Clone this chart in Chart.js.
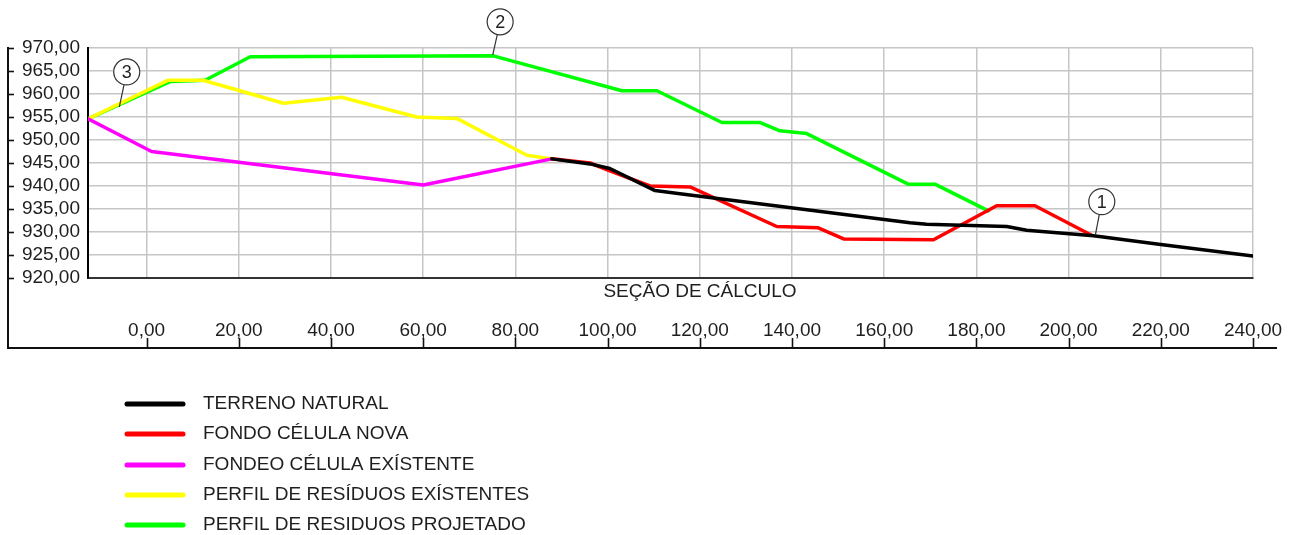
<!DOCTYPE html>
<html>
<head>
<meta charset="utf-8">
<script src="https://cdn.jsdelivr.net/npm/chart.js@4.4.1/dist/chart.umd.min.js"></script>
<style>
  html, body { margin: 0; padding: 0; background: #ffffff; }
  #wrap { width: 1301px; height: 535px; }
</style>
</head>
<body>
<div id="wrap"><canvas id="c" width="1301" height="535"></canvas></div>
<script>
// ---- data ----
const seriesNames = [
  'TERRENO NATURAL',
  'FONDO CÉLULA NOVA',
  'FONDEO CÉLULA EXÍSTENTE',
  'PERFIL DE RESÍDUOS EXÍSTENTES',
  'PERFIL DE RESIDUOS PROJETADO'
];
const seriesColors = ['#000000', '#ff0000', '#ff00ff', '#ffff00', '#00ff00'];

const terrenoX = [87.9, 96.2, 100.5, 110.3, 115.7, 165.6, 169.2, 186.6, 190.9, 205.4, 220.0, 240.0];
const terrenoY = [945.9, 944.8, 943.8, 939.0, 938.3, 932.0, 931.7, 931.2, 930.4, 929.2, 927.3, 924.8];

const fondoNovaX = [87.9, 96.2, 100.5, 109.2, 117.9, 136.7, 145.7, 151.2, 170.7, 184.4, 192.7, 205.0];
const fondoNovaY = [945.9, 945.0, 943.3, 940.0, 939.8, 931.2, 930.9, 928.5, 928.3, 935.7, 935.7, 929.3];

const fondeoExistX = [-12.7, 1.1, 60.0, 87.9];
const fondeoExistY = [954.6, 947.5, 940.2, 945.9];

const residExistX = [-12.7, 4.7, 12.3, 29.7, 42.3, 58.6, 67.3, 82.5, 87.9];
const residExistY = [954.6, 963.0, 963.0, 958.0, 959.3, 955.0, 954.7, 946.7, 945.9];

const residProjX = [-12.7, 5.1, 12.7, 22.5, 75.2, 103.1, 110.7, 124.8, 133.1, 137.4, 143.2, 165.2, 171.0, 182.6];
const residProjY = [954.6, 962.7, 963.0, 968.1, 968.3, 960.7, 960.7, 953.8, 953.8, 952.0, 951.4, 940.4, 940.4, 934.6];

const xMin = -12.7, xMax = 240, xStep = 20;
const yMin = 920, yMax = 970, yStep = 5;
const xTitle = 'SEÇÃO DE CÁLCULO';

// callouts: label, circle centre (data units), leader end (data units)
const calloutLabels = ['1', '2', '3'];
const calloutCX = [207.2, 76.7, -4.3];
const calloutCY = [936.6, 975.7, 964.8];
const calloutEX = [205.8, 75.1, -5.9];
const calloutEY = [929.3, 968.5, 957.2];

// ---- build ----
const xs = [terrenoX, fondoNovaX, fondeoExistX, residExistX, residProjX];
const ys = [terrenoY, fondoNovaY, fondeoExistY, residExistY, residProjY];
const FONT = '"Liberation Sans", Arial, Helvetica, sans-serif';
const FS = 19;
const fmt = v => Number(v).toFixed(2).replace('.', ',');

const datasets = seriesNames.map((name, i) => ({
  label: name,
  data: xs[i].map((x, k) => ({ x: x, y: ys[i][k] })),
  borderColor: seriesColors[i],
  backgroundColor: seriesColors[i],
  borderWidth: 3.5,
  pointRadius: 0,
  tension: 0,
  fill: false,
  borderJoinStyle: 'round',
  borderCapStyle: 'round'
}));

const framePlugin = {
  id: 'frame',
  afterDraw(chart) {
    const ctx = chart.ctx;
    const sx = chart.scales.x, sy = chart.scales.y;
    const top = sy.getPixelForValue(yMax);
    const frameLeft = 8, frameBottom = 348, frameRight = 1277;
    ctx.save();
    ctx.strokeStyle = '#111';
    ctx.lineWidth = 2;
    ctx.beginPath();
    ctx.moveTo(frameLeft, top - 1);
    ctx.lineTo(frameLeft, frameBottom);
    ctx.lineTo(frameRight, frameBottom);
    ctx.stroke();
    ctx.lineWidth = 1.6;
    sy.ticks.forEach(t => {
      const py = Math.round(sy.getPixelForValue(t.value)) + 0.5;
      ctx.beginPath(); ctx.moveTo(frameLeft, py); ctx.lineTo(frameLeft + 6, py); ctx.stroke();
    });
    sx.ticks.forEach(t => {
      const px = Math.round(sx.getPixelForValue(t.value)) + 0.5;
      ctx.beginPath(); ctx.moveTo(px, frameBottom - 10); ctx.lineTo(px, frameBottom); ctx.stroke();
    });
    // axis title between plot and tick labels
    ctx.fillStyle = '#1e1e1e';
    ctx.font = FS + 'px ' + FONT;
    ctx.textAlign = 'center';
    ctx.textBaseline = 'middle';
    ctx.fillText(xTitle, 700, 292);

    // legend
    const rows = [404, 434, 465, 495, 525];
    chart.data.datasets.forEach((ds, i) => {
      ctx.strokeStyle = ds.borderColor;
      ctx.lineWidth = 5;
      ctx.lineCap = 'round';
      ctx.beginPath(); ctx.moveTo(127, rows[i]); ctx.lineTo(183, rows[i]); ctx.stroke();
      ctx.fillStyle = '#1e1e1e';
      ctx.textAlign = 'left';
      ctx.fillText(ds.label, 203, rows[i]);
    });
    ctx.restore();
  },
  afterDatasetsDraw(chart) {
    const ctx = chart.ctx;
    const sx = chart.scales.x, sy = chart.scales.y;
    const r = 13;
    ctx.save();
    calloutLabels.forEach((lab, i) => {
      const cx = sx.getPixelForValue(calloutCX[i]);
      const cy = sy.getPixelForValue(calloutCY[i]);
      const ex = sx.getPixelForValue(calloutEX[i]);
      const ey = sy.getPixelForValue(calloutEY[i]);
      const ang = Math.atan2(ey - cy, ex - cx);
      ctx.strokeStyle = '#333';
      ctx.lineWidth = 1.2;
      ctx.beginPath();
      ctx.moveTo(cx + r * Math.cos(ang), cy + r * Math.sin(ang));
      ctx.lineTo(ex, ey);
      ctx.stroke();
      ctx.beginPath();
      ctx.arc(cx, cy, r, 0, Math.PI * 2);
      ctx.fillStyle = '#fff';
      ctx.fill();
      ctx.stroke();
      ctx.fillStyle = '#1e1e1e';
      ctx.font = '18px ' + FONT;
      ctx.textAlign = 'center';
      ctx.textBaseline = 'middle';
      ctx.fillText(lab, cx, cy + 1);
    });
    ctx.restore();
  }
};

new Chart(document.getElementById('c'), {
  type: 'line',
  data: { datasets: datasets },
  options: {
    responsive: false,
    animation: false,
    devicePixelRatio: 1,
    layout: { padding: { left: 22, right: 48, top: 48, bottom: 196 } },
    plugins: { legend: { display: false }, tooltip: { enabled: false } },
    scales: {
      x: {
        type: 'linear',
        min: xMin, max: xMax,
        afterFit(s) { s.height = 61; s.paddingLeft = 0; s.paddingRight = 0; },
        ticks: {
          stepSize: xStep,
          includeBounds: false,
          padding: 43,
          color: '#1e1e1e',
          font: { family: FONT, size: FS, lineHeight: 1 },
          maxRotation: 0,
          callback: v => fmt(v)
        },
        grid: { color: '#c6c6c6', lineWidth: 1.5, drawTicks: false },
        border: { display: true, color: '#333', width: 2 }
      },
      y: {
        type: 'linear',
        min: yMin, max: yMax,
        afterFit(s) { s.width = 66; s.paddingTop = 0; s.paddingBottom = 0; },
        ticks: {
          stepSize: yStep,
          padding: 8,
          color: '#1e1e1e',
          font: { family: FONT, size: FS, lineHeight: 1 },
          callback: v => fmt(v)
        },
        grid: { color: '#c6c6c6', lineWidth: 1.5, drawTicks: false },
        border: { display: true, color: '#000', width: 2 }
      }
    }
  },
  plugins: [framePlugin]
});
</script>
</body>
</html>
